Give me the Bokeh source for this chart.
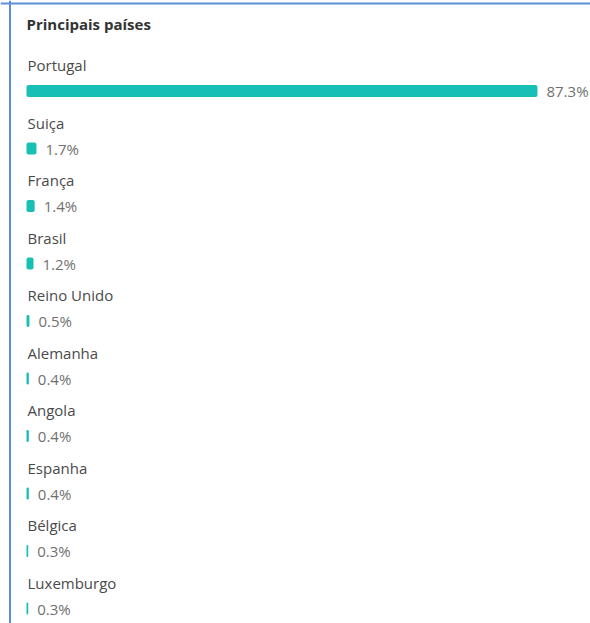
from bokeh.plotting import figure
from bokeh.models import Range1d, ColumnDataSource, Label, Span
from bokeh.core.properties import value
from bokeh.embed import file_html
from bokeh.resources import INLINE

title = "Principais países"
countries = ["Portugal", "Suiça", "França", "Brasil", "Reino Unido", "Alemanha",
             "Angola", "Espanha", "Bélgica", "Luxemburgo"]
shares = [87.3, 1.7, 1.4, 1.2, 0.5, 0.4, 0.4, 0.4, 0.3, 0.3]
share_labels = ["87.3%", "1.7%", "1.4%", "1.2%", "0.5%", "0.4%", "0.4%", "0.4%", "0.3%", "0.3%"]

W, H = 590, 623
ROW0, STEP, BAR_OFF = 64.5, 57.5, 26.0
X0, X1 = -4.442, 96.36
PX = (X1 - X0) / W  # data units per pixel

label_y = [ROW0 + i * STEP for i in range(len(countries))]
bar_y = [y + BAR_OFF for y in label_y]

src = ColumnDataSource(dict(country=countries, share=shares, lab=share_labels,
                            ly=label_y, by=bar_y, zero=[0] * len(countries)))

p = figure(width=W, height=H, output_backend="svg", toolbar_location=None,
           x_range=Range1d(X0, X1), y_range=Range1d(H, 0),
           min_border=0, min_border_left=0, min_border_right=0,
           min_border_top=0, min_border_bottom=0)
p.axis.visible = False
p.grid.visible = False
p.outline_line_color = None
p.background_fill_color = "white"
p.border_fill_color = "white"

p.add_layout(Span(location=X0 + 9.5 * PX, dimension="height",
                  line_color="#5b8fd6", line_width=2))
p.add_layout(Span(location=3, dimension="width", line_color="#5b8fd6", line_width=2))

p.add_layout(Label(x=0, y=23, text=title, text_font="Open Sans",
                   text_font_size="15px", text_font_style="bold", text_color="#333333",
                   text_baseline="middle", x_offset=0))

p.hbar(y="by", left="zero", right="share", height=12, source=src,
       fill_color="#18bfb5", line_color=None, border_radius=2)

p.text(x=0, y="ly", text="country", source=src, text_font=value("Open Sans"),
       text_font_size="15px", text_color="#4a4a4a", text_baseline="middle", x_offset=1)
p.text(x="share", y="by", text="lab", source=src, text_font=value("Open Sans"),
       text_font_size="15px", text_color="#707070", text_baseline="middle", x_offset=9)

open("out.html", "w").write(file_html(p, INLINE))
